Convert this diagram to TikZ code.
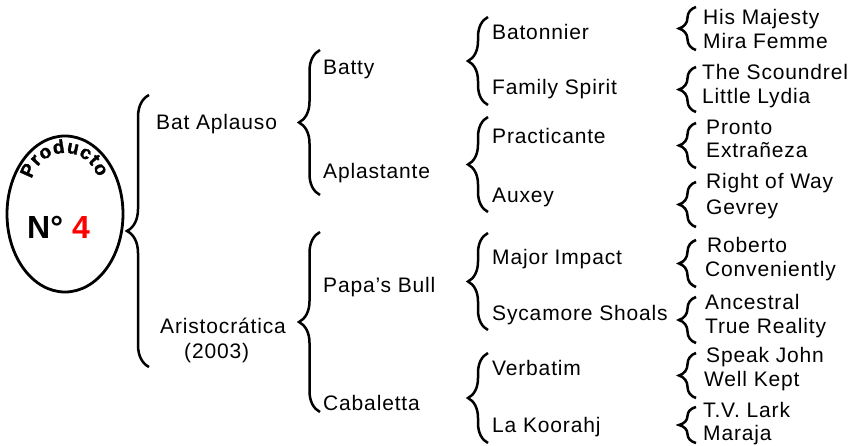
\documentclass[tikz,border=0pt]{standalone}
\usepackage{fontspec}
\setmainfont{Liberation Sans}
\newfontfamily\lblfont[LetterSpace=4]{Liberation Sans}
\newfontfamily\heavyfont{Liberation Sans}[BoldFeatures={FakeBold=1.6}]
\usetikzlibrary{decorations.pathreplacing,shapes.geometric,calc}
\begin{document}
\begin{tikzpicture}[x=1pt,y=1pt,
  lbl/.style={anchor=base west,inner sep=0pt,font=\lblfont\fontsize{21}{25}\selectfont},
  bracea/.style={line width=2.5pt,decorate,decoration={brace,amplitude=#1}},
  arcletter/.style={anchor=base,inner sep=0pt,font=\heavyfont\bfseries\fontsize{19}{19}\selectfont},
  ]
\useasboundingbox (0,0) rectangle (861,445);
% oval
\node[draw,line width=2.8pt,ellipse,minimum width=116pt,minimum height=156pt,inner sep=0pt] (oval) at (65,231) {};
\coordinate (arcc) at (65,258);
\foreach \l/\a [count=\i] in {P/155.8,r/137.5,o/120.1,d/99.2,u/78.3,c/58.3,t/42.7,o/26.3}{
  \node[arcletter,rotate=\a-90] (pl\i) at ($(arcc)+(\a:34)$) {\l};
}
\node[anchor=base,inner sep=0pt,font=\bfseries\fontsize{32}{34}\selectfont] (num) at (58.5,207) {N° \textcolor{red}{4}};
% level 1
\coordinate (b1s) at (149,78); \coordinate (b1e) at (149,350);
\draw[bracea=22] (b1s) -- (b1e);
\node[lbl] (batap) at (156,315) {Bat Aplauso};
\node[lbl] (aris) at (160,112) {Aristocrática};
\node[lbl] (yr) at (184,87) {(2003)};
% level 2
\coordinate (b2as) at (320,250); \coordinate (b2ae) at (320,395);
\coordinate (b2bs) at (320,33);  \coordinate (b2be) at (320,213);
\draw[bracea=21] (b2as) -- (b2ae);
\draw[bracea=21] (b2bs) -- (b2be);
\node[lbl] (batty) at (323,370) {Batty};
\node[lbl] (aplas) at (323,266) {Aplastante};
\node[lbl] (papa) at (323,153) {Papa’s Bull};
\node[lbl] (caba) at (323,35) {Cabaletta};
% level 3
\foreach \a/\b [count=\i] in {340/428,233/328,115/212,2/92}{
  \coordinate (b3s\i) at (488,\a); \coordinate (b3e\i) at (488,\b);
  \draw[bracea=20] (b3s\i) -- (b3e\i);
}
\node[lbl] (baton) at (492,405) {Batonnier};
\node[lbl] (famsp) at (492,350) {Family Spirit};
\node[lbl] (pract) at (492,301) {Practicante};
\node[lbl] (auxey) at (492,243) {Auxey};
\node[lbl] (major) at (492,181) {Major Impact};
\node[lbl] (sycam) at (492,125) {Sycamore Shoals};
\node[lbl] (verba) at (492,70) {Verbatim};
\node[lbl] (koora) at (492,13) {La Koorahj};
% level 4
\foreach \a/\b [count=\i] in {395/438,333/378,277/322,218/263,158/205,102/148,47/92,2/38}{
  \coordinate (b4s\i) at (696,\a); \coordinate (b4e\i) at (696,\b);
  \draw[bracea=17] (b4s\i) -- (b4e\i);
}
\node[lbl] (hism) at (703,420) {His Majesty};
\node[lbl] (miraf) at (703,396) {Mira Femme};
\node[lbl] (scoun) at (702,365) {The Scoundrel};
\node[lbl] (lydia) at (702,341) {Little Lydia};
\node[lbl] (pronto) at (706,310) {Pronto};
\node[lbl] (extra) at (706,287) {Extrañeza};
\node[lbl] (right) at (706,256) {Right of Way};
\node[lbl] (gevrey) at (706,231) {Gevrey};
\node[lbl] (robert) at (707,193) {Roberto};
\node[lbl] (conv) at (705,169) {Conveniently};
\node[lbl] (ances) at (705,136) {Ancestral};
\node[lbl] (truer) at (705,112) {True Reality};
\node[lbl] (speak) at (706,83) {Speak John};
\node[lbl] (wellk) at (704,59) {Well Kept};
\node[lbl] (tvl) at (703,28) {T.V. Lark};
\node[lbl] (maraja) at (703,5) {Maraja};
\end{tikzpicture}
\end{document}
